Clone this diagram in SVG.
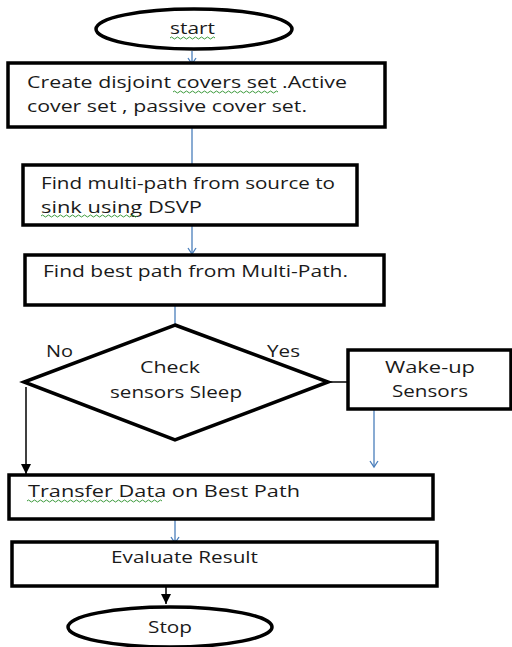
<svg xmlns="http://www.w3.org/2000/svg" width="512" height="647" viewBox="0 0 512 647">
<defs>
<style>
.n{fill:#fff;stroke:#000;stroke-width:3.5}
.t{font-family:"Open Sans","Liberation Sans",sans-serif;font-size:15.5px;fill:#1a1a1a}
.b{stroke:#4a7ebb;stroke-width:1.3;fill:none}
.k{stroke:#000;stroke-width:1.5;fill:none}
.w{stroke:#3c9a3c;stroke-width:1;fill:none}
</style>
<marker id="ob" markerWidth="10" markerHeight="10" refX="8" refY="5" orient="auto" markerUnits="userSpaceOnUse"><path d="M2,1 L8,5 L2,9" fill="none" stroke="#4a7ebb" stroke-width="1.3"/></marker>
<marker id="fk" markerWidth="12" markerHeight="12" refX="10" refY="6" orient="auto" markerUnits="userSpaceOnUse"><path d="M0,1 L10,6 L0,11 Z" fill="#000"/></marker>
</defs>
<rect width="512" height="647" fill="#fff"/>
<g id="connectors">
<line class="b" x1="192" y1="51" x2="192" y2="64" marker-end="url(#ob)"/>
<line class="b" x1="192" y1="128" x2="192" y2="172" marker-end="url(#ob)"/>
<line class="b" x1="192" y1="226" x2="192" y2="254" marker-end="url(#ob)"/>
<line class="b" x1="175" y1="306" x2="175" y2="338" marker-end="url(#ob)"/>
<line class="k" x1="329" y1="382" x2="357" y2="382" marker-end="url(#fk)"/>
<line class="b" x1="374" y1="410" x2="374" y2="467" marker-end="url(#ob)"/>
<line class="k" x1="26" y1="387" x2="26" y2="474" marker-end="url(#fk)"/>
<line class="b" x1="175" y1="520" x2="175" y2="543" marker-end="url(#ob)"/>
<line class="k" x1="166" y1="587" x2="166" y2="604" marker-end="url(#fk)"/>
<text class="t" x="46" y="357" textLength="27" lengthAdjust="spacingAndGlyphs">No</text>
<text class="t" x="267" y="357" textLength="33" lengthAdjust="spacingAndGlyphs">Yes</text>
</g>
<g id="start">
<ellipse class="n" cx="194" cy="29" rx="98" ry="20"/>
<text class="t" x="170" y="34" textLength="45" lengthAdjust="spacingAndGlyphs">start</text>
<path class="w" d="M170,38 q1.5,-2 3,0 t3,0 t3,0 t3,0 t3,0 t3,0 t3,0 t3,0 t3,0 t3,0 t3,0 t3,0 t3,0 t3,0 t3,0"/>
</g>
<g id="create">
<rect class="n" x="8" y="63" width="377" height="64"/>
<text class="t" x="27" y="88" textLength="320" lengthAdjust="spacingAndGlyphs">Create disjoint covers  set .Active</text>
<text class="t" x="27" y="112" textLength="280" lengthAdjust="spacingAndGlyphs">cover  set , passive cover set.</text>
<path class="w" d="M173,92 q1.5,-2 3,0 t3,0 t3,0 t3,0 t3,0 t3,0 t3,0 t3,0 t3,0 t3,0 t3,0 t3,0 t3,0 t3,0 t3,0 t3,0 t3,0 t3,0 t3,0 t3,0 t3,0 t3,0 t3,0 t3,0 t3,0 t3,0 t3,0 t3,0 t3,0 t3,0 t3,0 t3,0 t3,0 t3,0 t3,0"/>
</g>
<g id="findmulti">
<rect class="n" x="23" y="165" width="334" height="60"/>
<text class="t" x="41" y="189" textLength="294" lengthAdjust="spacingAndGlyphs">Find multi-path from source to</text>
<text class="t" x="41" y="213" textLength="161" lengthAdjust="spacingAndGlyphs">sink  using  DSVP</text>
<path class="w" d="M41,216 q1.5,-2 3,0 t3,0 t3,0 t3,0 t3,0 t3,0 t3,0 t3,0 t3,0 t3,0 t3,0 t3,0 t3,0 t3,0 t3,0 t3,0 t3,0 t3,0 t3,0 t3,0 t3,0 t3,0 t3,0 t3,0 t3,0 t3,0 t3,0 t3,0 t3,0 t3,0 t3,0 t3,0"/>
</g>
<g id="findbest">
<rect class="n" x="25" y="255" width="359" height="50"/>
<text class="t" x="43" y="277" textLength="305" lengthAdjust="spacingAndGlyphs">Find best path from Multi-Path.</text>
</g>
<g id="check">
<polygon class="n" points="175,325 328,382 175,440 24,382"/>
<text class="t" x="140" y="373" textLength="60" lengthAdjust="spacingAndGlyphs">Check</text>
<text class="t" x="110" y="398" textLength="132" lengthAdjust="spacingAndGlyphs">sensors Sleep</text>
</g>
<g id="wakeup">
<rect class="n" x="348" y="350" width="163" height="59"/>
<text class="t" x="385" y="373" textLength="90" lengthAdjust="spacingAndGlyphs">Wake-up</text>
<text class="t" x="392" y="397" textLength="76" lengthAdjust="spacingAndGlyphs">Sensors</text>
</g>
<g id="transfer">
<rect class="n" x="9" y="475" width="424" height="44"/>
<text class="t" x="28" y="497" textLength="272" lengthAdjust="spacingAndGlyphs">Transfer  Data on  Best  Path</text>
<path class="w" d="M27,501 q1.5,-2 3,0 t3,0 t3,0 t3,0 t3,0 t3,0 t3,0 t3,0 t3,0 t3,0 t3,0 t3,0 t3,0 t3,0 t3,0 t3,0 t3,0 t3,0 t3,0 t3,0 t3,0 t3,0 t3,0 t3,0 t3,0 t3,0 t3,0 t3,0 t3,0 t3,0 t3,0 t3,0 t3,0 t3,0 t3,0 t3,0 t3,0 t3,0 t3,0 t3,0 t3,0 t3,0 t3,0 t3,0 t3,0"/>
</g>
<g id="evaluate">
<rect class="n" x="12" y="542" width="425" height="44"/>
<text class="t" x="111" y="563" textLength="147" lengthAdjust="spacingAndGlyphs">Evaluate Result</text>
</g>
<g id="stop">
<ellipse class="n" cx="170" cy="627" rx="102" ry="20"/>
<text class="t" x="148" y="633" textLength="44" lengthAdjust="spacingAndGlyphs">Stop</text>
</g>
</svg>
